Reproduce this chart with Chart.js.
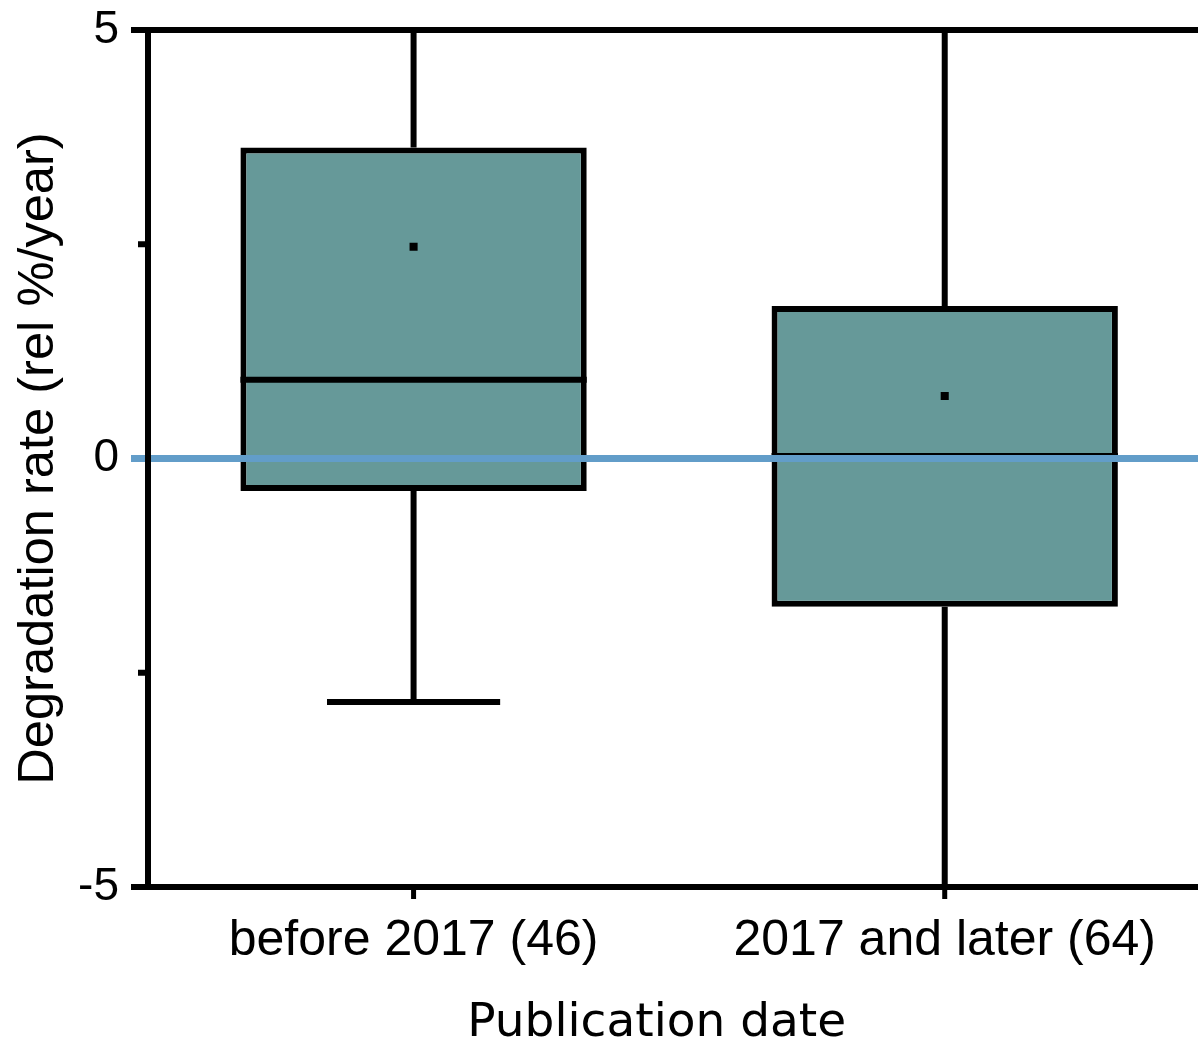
<!DOCTYPE html>
<html>
<head>
<meta charset="utf-8">
<script src="https://cdn.jsdelivr.net/npm/chart.js@4/dist/chart.umd.min.js"></script>
<style>
  html, body { margin: 0; padding: 0; background: #ffffff; overflow: hidden; }
  #wrap { width: 1216px; height: 1049px; }
</style>
</head>
<body>
<div id="wrap"><canvas id="chart" width="1216" height="1049"></canvas></div>
<script>
// Degradation rate by publication date: box plot summary per group
const categories = ['before 2017 (46)', '2017 and later (64)'];
const q1Values = [-0.38, -1.73];
const q3Values = [3.63, 1.78];
const medianValues = [0.92, 0.03];
const meanValues = [2.47, 0.73];
const whiskerLow = [-2.84, -5.9];
const whiskerHigh = [5.6, 5.8];

const yTickValues = [-5, -2.5, 0, 2.5, 5];
const yTickLabels = ['-5', '', '0', '', '5'];
const referenceValue = 0;

const BOX_FILL = '#669999';
const INK = '#000000';
const REF_BLUE = '#629dc9';
const LINE_W = 6;
const MAJOR_TICK = 17;
const MINOR_TICK = 10;
const X_TICK = 12;

// Whiskers, medians, reference line and axis frame, drawn right after the boxes
const boxExtras = {
  id: 'boxExtras',
  afterDatasetDraw(chart, args) {
    if (args.meta.type !== 'bar') return;
    const { ctx, chartArea } = chart;
    const x = chart.scales.x;
    const y = chart.scales.y;
    const meta = args.meta;

    ctx.save();
    ctx.lineCap = 'butt';
    ctx.strokeStyle = INK;
    ctx.lineWidth = LINE_W;

    // clip whiskers to the plotting area
    ctx.save();
    ctx.beginPath();
    ctx.rect(chartArea.left, chartArea.top, chartArea.right - chartArea.left, chartArea.bottom - chartArea.top);
    ctx.clip();
    categories.forEach((c, i) => {
      const cx = x.getPixelForValue(i);
      const bar = meta.data[i];
      const half = bar.width / 2;
      const capHalf = half / 2;
      const yq1 = y.getPixelForValue(q1Values[i]);
      const yq3 = y.getPixelForValue(q3Values[i]);
      const ylo = y.getPixelForValue(whiskerLow[i]);
      const yhi = y.getPixelForValue(whiskerHigh[i]);
      ctx.beginPath();
      ctx.moveTo(cx, yq3); ctx.lineTo(cx, yhi);
      ctx.moveTo(cx, yq1); ctx.lineTo(cx, ylo);
      ctx.stroke();
      ctx.beginPath();
      ctx.moveTo(cx - capHalf, yhi); ctx.lineTo(cx + capHalf, yhi);
      ctx.moveTo(cx - capHalf, ylo); ctx.lineTo(cx + capHalf, ylo);
      ctx.stroke();
      // median
      const ym = y.getPixelForValue(medianValues[i]);
      ctx.beginPath();
      ctx.moveTo(cx - half, ym); ctx.lineTo(cx + half, ym);
      ctx.stroke();
    });
    ctx.restore();

    // reference line at zero
    const y0 = y.getPixelForValue(referenceValue);
    ctx.strokeStyle = REF_BLUE;
    ctx.lineWidth = 7;
    ctx.beginPath();
    ctx.moveTo(chartArea.left - MAJOR_TICK, y0);
    ctx.lineTo(chart.width, y0);
    ctx.stroke();

    // axis frame
    ctx.strokeStyle = INK;
    ctx.lineWidth = LINE_W;
    const yTop = y.getPixelForValue(y.max);
    const yBot = y.getPixelForValue(y.min);
    ctx.beginPath();
    ctx.moveTo(chartArea.left - MAJOR_TICK, yTop); ctx.lineTo(chart.width, yTop);
    ctx.moveTo(chartArea.left - MAJOR_TICK, yBot); ctx.lineTo(chart.width, yBot);
    ctx.moveTo(chartArea.left, yTop - LINE_W / 2); ctx.lineTo(chartArea.left, yBot + LINE_W / 2);
    ctx.stroke();

    // minor y ticks
    ctx.beginPath();
    yTickValues.forEach((v, i) => {
      if (yTickLabels[i] !== '') return;
      const py = y.getPixelForValue(v);
      ctx.moveTo(chartArea.left - MINOR_TICK, py); ctx.lineTo(chartArea.left, py);
    });
    ctx.stroke();

    // category ticks
    ctx.lineWidth = 5;
    ctx.beginPath();
    categories.forEach((c, i) => {
      const cx = x.getPixelForValue(i);
      ctx.moveTo(cx, yBot); ctx.lineTo(cx, yBot + X_TICK);
    });
    ctx.stroke();
    ctx.restore();
  }
};

new Chart(document.getElementById('chart'), {
  type: 'bar',
  data: {
    labels: categories,
    datasets: [
      {
        type: 'line',
        label: 'Mean',
        data: meanValues,
        showLine: false,
        pointStyle: 'rect',
        pointRadius: 5.7,
        pointBorderWidth: 0,
        pointBackgroundColor: INK,
        pointBorderColor: INK,
        order: 0
      },
      {
        type: 'bar',
        label: 'Interquartile range',
        data: categories.map((c, i) => [q1Values[i], q3Values[i]]),
        backgroundColor: BOX_FILL,
        borderColor: INK,
        borderWidth: LINE_W,
        borderSkipped: false,
        barPercentage: 0.652,
        categoryPercentage: 1,
        order: 1
      }
    ]
  },
  options: {
    responsive: false,
    animation: false,
    devicePixelRatio: 1,
    layout: { padding: { top: 30, right: 0, bottom: 0, left: 0 } },
    plugins: {
      legend: { display: false },
      tooltip: { enabled: false }
    },
    scales: {
      x: {
        offset: true,
        grid: { display: false },
        border: { display: false },
        ticks: {
          color: INK,
          padding: 16,
          maxRotation: 0,
          font: { family: '"Liberation Sans", Arial, sans-serif', size: 50 }
        },
        title: {
          display: true,
          text: 'Publication date\u00a0\u00a0\u00a0',
          color: INK,
          font: { family: '"DejaVu Sans", sans-serif', size: 47, lineHeight: 1 },
          padding: { top: 0, bottom: 1.5 }
        },
        afterFit(scale) {
          scale.height = 162;
          scale.paddingLeft = 0;
          scale.paddingRight = 0;
        }
      },
      y: {
        min: -5,
        max: 5,
        grid: { display: false },
        border: { display: false },
        afterBuildTicks(scale) {
          scale.ticks = yTickValues.map(v => ({ value: v }));
        },
        ticks: {
          color: INK,
          padding: 21,
          autoSkip: false,
          font: { family: '"Liberation Sans", Arial, sans-serif', size: 46 },
          callback(value, index) { return yTickLabels[index]; }
        },
        title: {
          display: true,
          text: 'Degradation rate (rel %/year)',
          color: INK,
          font: { family: '"Liberation Sans", Arial, sans-serif', size: 50.6, lineHeight: 1.2 },
          padding: { top: 9, bottom: 0 }
        },
        afterFit(scale) {
          scale.width = 148;
          scale.paddingTop = 0;
          scale.paddingBottom = 0;
        }
      }
    }
  },
  plugins: [boxExtras]
});
</script>
</body>
</html>
